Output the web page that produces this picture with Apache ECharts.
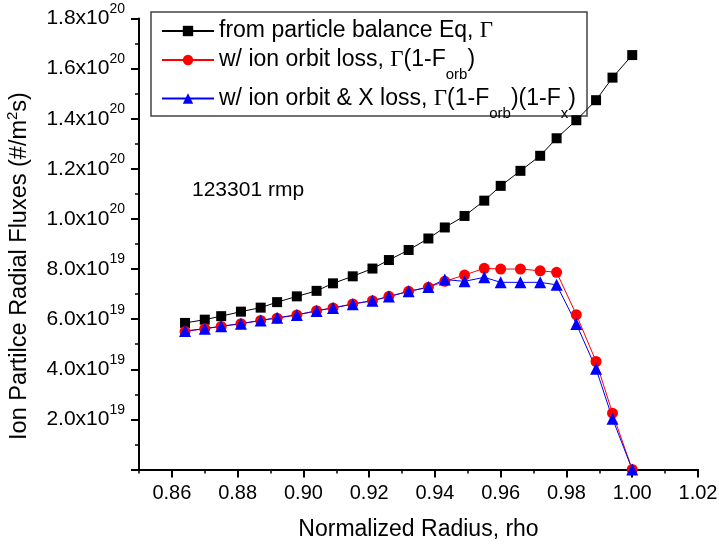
<!DOCTYPE html>
<html>
<head>
<meta charset="utf-8">
<script src="https://cdn.jsdelivr.net/npm/echarts@6/dist/echarts.min.js"></script>
<style>
html,body{margin:0;padding:0;background:#fff;}
#chart{width:719px;height:546px;}
</style>
</head>
<body>
<div id="chart"></div>
<script>
// ---- data ----
var rho = [0.864, 0.870, 0.875, 0.881, 0.887, 0.892, 0.898, 0.904, 0.909, 0.915, 0.921, 0.926, 0.932,
           0.938, 0.943, 0.949, 0.955, 0.960, 0.966, 0.972, 0.977, 0.983, 0.989, 0.994, 1.000];
var fluxGamma = [5.85e19, 5.98e19, 6.12e19, 6.30e19, 6.46e19, 6.68e19, 6.91e19, 7.13e19, 7.43e19, 7.71e19,
                 8.02e19, 8.36e19, 8.76e19, 9.22e19, 9.66e19, 10.12e19, 10.73e19, 11.32e19, 11.92e19,
                 12.52e19, 13.22e19, 13.94e19, 14.74e19, 15.64e19, 16.54e19];
var fluxOrb = [5.51e19, 5.62e19, 5.71e19, 5.82e19, 5.95e19, 6.04e19, 6.17e19, 6.34e19, 6.45e19, 6.61e19,
               6.74e19, 6.91e19, 7.11e19, 7.27e19, 7.51e19, 7.76e19, 8.03e19, 8.00e19, 8.00e19, 7.93e19,
               7.87e19, 6.18e19, 4.31e19, 2.25e19, 0.0];
var fluxOrbX = [5.53e19, 5.62e19, 5.72e19, 5.82e19, 5.95e19, 6.06e19, 6.17e19, 6.33e19, 6.45e19, 6.60e19,
                6.74e19, 6.90e19, 7.11e19, 7.28e19, 7.58e19, 7.51e19, 7.67e19, 7.47e19, 7.47e19, 7.47e19,
                7.37e19, 5.81e19, 4.02e19, 2.03e19, 0.0];
var xTickValues = [0.86, 0.88, 0.90, 0.92, 0.94, 0.96, 0.98, 1.00, 1.02];
var seriesNames = ['from particle balance Eq, Γ', 'w/ ion orbit loss, Γ(1-Forb)', 'w/ ion orbit & X loss, Γ(1-Forb)(1-Fx)'];
var legendRich = [
  '{t|from particle balance Eq, }{g|Γ}',
  '{t|w/ ion orbit loss, }{g|Γ}{t|(1-F}{s|orb}{t|)}',
  '{t|w/ ion orbit & X loss, }{g|Γ}{t|(1-F}{s|orb}{t|)(1-F}{s|x}{t|)}'
];
var annotation = '123301 rmp';

function pairs(xs, ys) { return xs.map(function (x, i) { return [x, ys[i]]; }); }

var FONT = 'Liberation Sans';
var legendTops = [19.5, 41, 79.5];
var legends = seriesNames.map(function (name, i) {
  return {
    orient: 'vertical', left: 161, top: legendTops[i], padding: 0,
    itemGap: 0, itemWidth: 52, itemHeight: 13,
    data: [name], z: 5,
    formatter: function (n) { return legendRich[seriesNames.indexOf(n)]; },
    textStyle: {
      color: '#000', fontFamily: FONT, fontSize: 23,
      rich: {
        t: {fontFamily: FONT, fontSize: 23, lineHeight: 18, color: '#000'},
        g: {fontFamily: 'Liberation Serif', fontSize: 23, lineHeight: 18, color: '#000'},
        s: {fontFamily: FONT, fontSize: 15, height: 8, lineHeight: 12, padding: [30, 0, 0, 0], color: '#000'}
      }
    }
  };
});

var chart = echarts.init(document.getElementById('chart'), null, {renderer: 'canvas'});
chart.setOption({
  animation: false,
  backgroundColor: '#fff',
  grid: {left: 139, right: 21, top: 18.5, bottom: 76.5, containLabel: false, outerBoundsMode: 'none'},
  legend: legends,
  graphic: [{
    type: 'rect', z: 3,
    shape: {x: 151, y: 12, width: 436, height: 104},
    style: {fill: '#fff', stroke: '#444', lineWidth: 1.5}
  }, {
    type: 'text', left: 192, top: 180,
    style: {text: annotation, font: '21px "Liberation Sans"', fill: '#000'}
  }],
  xAxis: [{
    type: 'value', min: 0.85, max: 1.02, position: 'bottom',
    name: 'Normalized Radius, rho', nameLocation: 'middle', nameGap: 49, nameMoveOverlap: false,
    nameTextStyle: {fontFamily: FONT, fontSize: 23, color: '#000'},
    axisLine: {show: true, onZero: false, lineStyle: {color: '#000', width: 2}},
    axisTick: {show: true, inside: false, length: 8, customValues: xTickValues, lineStyle: {color: '#000', width: 2}},
    axisLabel: {customValues: xTickValues, margin: 14, fontFamily: FONT, fontSize: 20, color: '#000',
                formatter: function (v) { return v.toFixed(2); }},
    splitLine: {show: false}
  }, {
    type: 'value', min: 0.85, max: 1.02, interval: 0.01, position: 'bottom', offset: 0,
    axisLine: {show: false},
    axisTick: {show: true, inside: false, length: 4, lineStyle: {color: '#000', width: 1.5}},
    axisLabel: {show: false},
    splitLine: {show: false}
  }],
  yAxis: {
    type: 'value', min: 0, max: 1.8e20, interval: 2e19,
    name: '{t|Ion Partilce Radial Fluxes (#/m}{p|2}{t|s)}',
    nameLocation: 'middle', nameGap: 105, nameMoveOverlap: false,
    nameTextStyle: {fontFamily: FONT, fontSize: 23.5, color: '#000', padding: [0, 44, 0, 0],
      rich: {
        t: {fontFamily: FONT, fontSize: 23.5, color: '#000'},
        p: {fontFamily: FONT, fontSize: 15, color: '#000', padding: [0, 0, 14, 0]}
      }},
    axisLine: {show: true, onZero: false, lineStyle: {color: '#000', width: 2}},
    axisTick: {show: true, inside: false, length: 8, lineStyle: {color: '#000', width: 2}},
    minorTick: {show: true, splitNumber: 2, length: 4, lineStyle: {color: '#000', width: 1.5}},
    splitLine: {show: false},
    minorSplitLine: {show: false},
    axisLabel: {
      margin: 14, color: '#000',
      formatter: function (v) {
        if (v === 0) return '';
        var e = Math.floor(Math.log10(v) + 1e-9);
        var m = (v / Math.pow(10, e)).toFixed(1);
        return '{m|' + m + 'x10}{e|' + e + '}';
      },
      rich: {
        m: {fontFamily: FONT, fontSize: 21, color: '#000'},
        e: {fontFamily: FONT, fontSize: 14, color: '#000', padding: [0, 0, 19, 0]}
      }
    }
  },
  series: [{
    name: seriesNames[0], type: 'line', data: pairs(rho, fluxGamma), clip: false,
    symbol: 'rect', symbolSize: 10, color: '#000',
    itemStyle: {color: '#000'}, lineStyle: {color: '#000', width: 1},
    emphasis: {disabled: true}
  }, {
    name: seriesNames[1], type: 'line', data: pairs(rho, fluxOrb), clip: false,
    symbol: 'circle', symbolSize: 11, color: '#ff0000',
    itemStyle: {color: '#ff0000'}, lineStyle: {color: '#ff0000', width: 1},
    emphasis: {disabled: true}
  }, {
    name: seriesNames[2], type: 'line', data: pairs(rho, fluxOrbX), clip: false,
    symbol: 'triangle', symbolSize: 12, color: '#0000ff',
    itemStyle: {color: '#0000ff'}, lineStyle: {color: '#0000ff', width: 1},
    emphasis: {disabled: true}
  }]
});
</script>
</body>
</html>
